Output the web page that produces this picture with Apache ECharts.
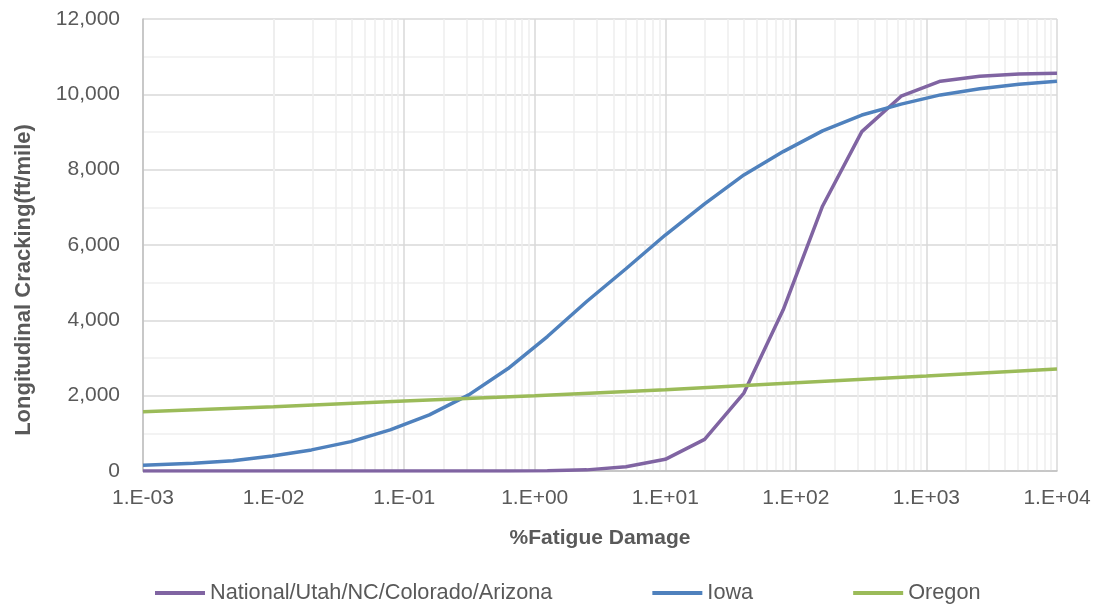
<!DOCTYPE html>
<html>
<head>
<meta charset="utf-8">
<script src="https://cdn.jsdelivr.net/npm/echarts@6/dist/echarts.min.js"></script>
<style>
html,body{margin:0;padding:0;background:#fff;}
#chart{width:1105px;height:609px;}
</style>
</head>
<body>
<div id="chart"></div>
<script>
// ---- data ----
const xValues = [0.001, 0.00244, 0.00488, 0.00977, 0.0195, 0.0391, 0.0781, 0.156, 0.3125, 0.625, 1.25, 2.5, 5, 10, 20, 40, 80, 160, 320, 640, 1280, 2560, 5120, 10000];
const national = [0, 0, 0, 0, 0, 0, 0, 0, 0, 2, 8, 30, 115, 310, 840, 2070, 4280, 7030, 9010, 9950, 10350, 10480, 10540, 10560];
const iowa = [150, 205, 275, 400, 560, 780, 1090, 1490, 2020, 2720, 3570, 4500, 5370, 6265, 7090, 7860, 8480, 9030, 9450, 9740, 9985, 10150, 10270, 10350];
const oregonX = [0.001, 0.01, 0.1, 1, 10, 100, 1000, 10000];
const oregon = [1570, 1707, 1860, 2000, 2160, 2345, 2520, 2710];
const seriesNames = ['National/Utah/NC/Colorado/Arizona', 'Iowa', 'Oregon'];
const xTitle = '%Fatigue Damage';
const yTitle = 'Longitudinal Cracking(ft/mile)';

const FONT = "'Liberation Sans', Arial, sans-serif";
const TXT = '#595959';

// minor log grid positions (2..9 within each decade)
const minorXs = [];
for (let e = -3; e < 4; e++) {
  for (let m = 2; m <= 9; m++) minorXs.push(m * Math.pow(10, e));
}

function fmtExp(v) {
  const e = Math.round(Math.log10(v));
  return '1.E' + (e < 0 ? '-' : '+') + String(Math.abs(e)).padStart(2, '0');
}

const chart = echarts.init(document.getElementById('chart'), null, {renderer: 'canvas'});
chart.setOption({
  animation: false,
  backgroundColor: '#ffffff',
  textStyle: {fontFamily: FONT},
  grid: {left: 143, right: 48, top: 19, bottom: 138, containLabel: false},
  legend: {
    data: seriesNames,
    left: 150, top: 577,
    icon: 'rect', itemWidth: 50, itemHeight: 4, itemGap: 100,
    textStyle: {color: TXT, fontSize: 21.7, fontFamily: FONT}
  },
  xAxis: {
    type: 'log', logBase: 10, min: 0.001, max: 10000, interval: 1,
    name: xTitle, nameLocation: 'middle', nameGap: 57,
    nameTextStyle: {color: TXT, fontSize: 21, fontWeight: 'bold', fontFamily: FONT},
    axisLine: {show: true, lineStyle: {color: '#bfbfbf', width: 1.5}},
    axisTick: {show: false},
    axisLabel: {color: TXT, fontSize: 21, margin: 17, fontFamily: FONT, formatter: fmtExp},
    splitLine: {show: true, lineStyle: {color: '#d9d9d9', width: 1.5}},
    minorTick: {show: false},
    minorSplitLine: {show: false}
  },
  yAxis: {
    type: 'value', min: 0, max: 12000, interval: 2000,
    axisLine: {show: true, lineStyle: {color: '#bfbfbf', width: 1.5}},
    axisTick: {show: false},
    axisLabel: {color: TXT, fontSize: 21, margin: 23, fontFamily: FONT,
      formatter: v => v.toLocaleString('en-US')},
    splitLine: {show: true, lineStyle: {color: '#d9d9d9', width: 1.5}},
    minorTick: {show: false, splitNumber: 2},
    minorSplitLine: {show: true, lineStyle: {color: '#f0f0f0', width: 1.5}}
  },
  graphic: [{
    type: 'text', x: 24, y: 280, rotation: Math.PI / 2,
    style: {text: yTitle, fill: TXT, font: "bold 22px " + FONT, textAlign: 'center', textVerticalAlign: 'middle'}
  }],
  series: [
    {
      name: '_minorgrid', type: 'line', data: [[1, 0]], symbol: 'none', z: 0,
      lineStyle: {opacity: 0}, silent: true,
      markLine: {
        silent: true, symbol: 'none', label: {show: false}, z: 0, animation: false,
        lineStyle: {color: '#eeeeee', width: 1.5, type: 'solid'},
        data: minorXs.map(v => ({xAxis: v}))
      }
    },
    {
      name: seriesNames[0], type: 'line', z: 3, symbol: 'none', showSymbol: false,
      data: xValues.map((x, i) => [x, national[i]]),
      itemStyle: {color: '#8064A2'},
      lineStyle: {color: '#8064A2', width: 3.5}
    },
    {
      name: seriesNames[1], type: 'line', z: 3, symbol: 'none', showSymbol: false,
      data: xValues.map((x, i) => [x, iowa[i]]),
      itemStyle: {color: '#4F81BD'},
      lineStyle: {color: '#4F81BD', width: 3.5}
    },
    {
      name: seriesNames[2], type: 'line', z: 3, symbol: 'none', showSymbol: false,
      data: oregonX.map((x, i) => [x, oregon[i]]),
      itemStyle: {color: '#9BBB59'},
      lineStyle: {color: '#9BBB59', width: 3.5}
    }
  ]
});
</script>
</body>
</html>
